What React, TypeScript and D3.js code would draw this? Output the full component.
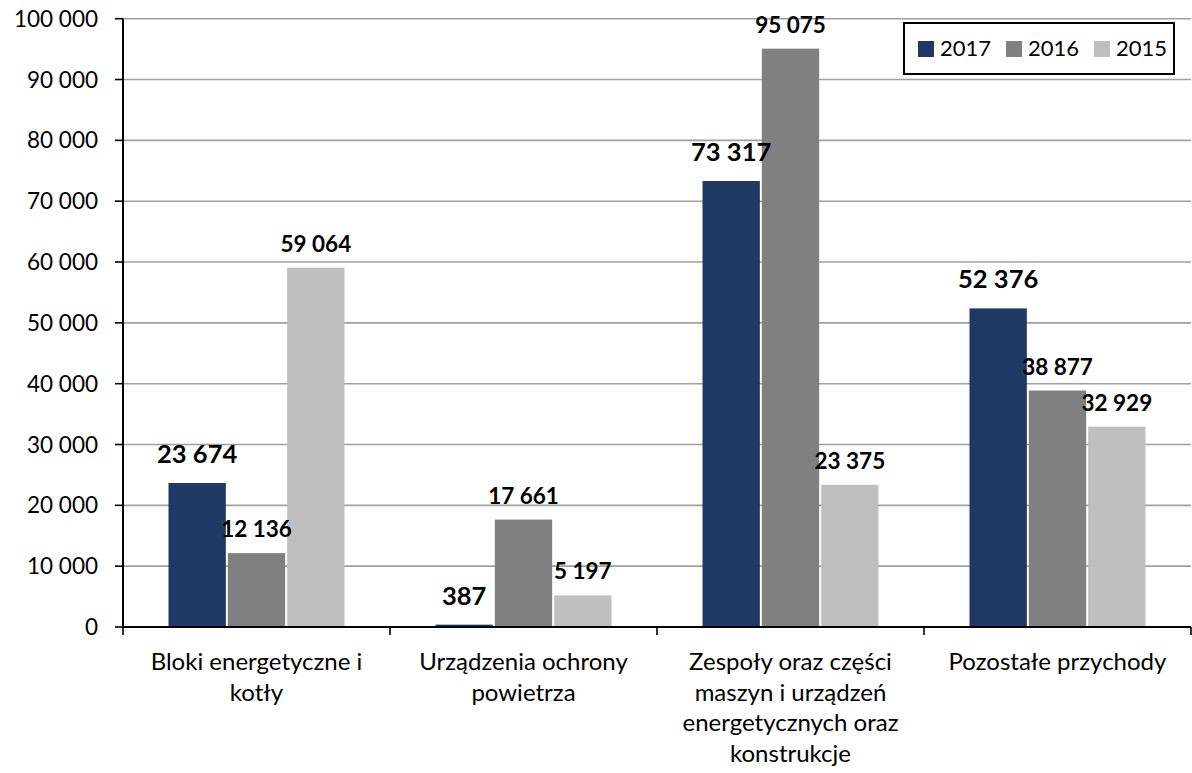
import React from "react";
import * as d3 from "d3";

const categories: string[][] = [
  ["Bloki energetyczne i", "kotły"],
  ["Urządzenia ochrony", "powietrza"],
  ["Zespoły oraz części", "maszyn i urządzeń", "energetycznych oraz", "konstrukcje"],
  ["Pozostałe przychody"],
];
const seriesNames = ["2017", "2016", "2015"];
const values2017 = [23674, 387, 73317, 52376];
const values2016 = [12136, 17661, 95075, 38877];
const values2015 = [59064, 5197, 23375, 32929];
const yTicks = [0, 10000, 20000, 30000, 40000, 50000, 60000, 70000, 80000, 90000, 100000];
const colors = ["#203864", "#808080", "#BFBFBF"];

const W = 1192;
const H = 773;
const FONT = "Lato, 'Open Sans', sans-serif";

export default function App() {
  const seriesValues = [values2017, values2016, values2015];
  const left = 123;
  const right = 1191;
  const top = 18.7;
  const bottom = 627;

  const catIdx = categories.map((_, i) => i);
  const x = d3.scaleBand<number>().domain(catIdx).range([left, right]).paddingInner(0).paddingOuter(0);
  const xs = d3.scaleBand<number>().domain([0, 1, 2]).range([0, x.bandwidth()]).paddingInner(0).paddingOuter(0.75);
  const y = d3.scaleLinear().domain([0, 100000]).range([bottom, top]);
  const loc = d3.formatLocale({ decimal: ",", thousands: " ", grouping: [3], currency: ["", ""] });
  const fmt = loc.format(",d");
  const bw = xs.bandwidth();

  const boundaries = [...catIdx.map((i) => x(i)!), right];

  return (
    <svg width={W} height={H} style={{ position: "absolute", left: 0, top: 0, background: "#fff" }} fontFamily={FONT}>
      <rect x={0} y={0} width={W} height={H} fill="#fff" />
      {yTicks.map((t) => (
        <g key={t}>
          {t > 0 && <line x1={left} x2={right} y1={y(t)} y2={y(t)} stroke="#A0A0A0" strokeWidth={1.6} />}
          <line x1={115} x2={left} y1={y(t)} y2={y(t)} stroke="#000" strokeWidth={1.6} />
          <text x={98} y={y(t)} dy="0.36em" textAnchor="end" fontSize={22.5} fill="#000">
            {fmt(t)}
          </text>
        </g>
      ))}
      {seriesValues.map((vals, s) =>
        vals.map((v, i) => {
          const bx = x(i)! + xs(s)!;
          return (
            <rect key={`${s}-${i}`} x={bx + 1} y={y(v)} width={bw - 2} height={bottom - y(v)} fill={colors[s]} />
          );
        })
      )}
      {seriesValues.map((vals, s) =>
        vals.map((v, i) => {
          const cx = x(i)! + xs(s)! + bw / 2;
          return (
            <text
              key={`l-${s}-${i}`}
              x={cx}
              y={y(v) - (s === 0 ? 20 : 16)}
              textAnchor="middle"
              fontWeight="bold"
              fontSize={s === 0 ? 25.5 : 22.5}
              fill="#000"
            >
              {fmt(v)}
            </text>
          );
        })
      )}
      <line x1={left} x2={left} y1={top} y2={bottom + 1} stroke="#000" strokeWidth={2} />
      <line x1={left - 1} x2={right} y1={bottom} y2={bottom} stroke="#000" strokeWidth={2} />
      {boundaries.map((b, i) => (
        <line key={`b-${i}`} x1={b} x2={b} y1={bottom} y2={bottom + 8} stroke="#000" strokeWidth={1.6} />
      ))}
      {categories.map((lines, i) => (
        <text key={`c-${i}`} x={x(i)! + x.bandwidth() / 2} y={670} textAnchor="middle" fontSize={24} fill="#000">
          {lines.map((ln, j) => (
            <tspan key={j} x={x(i)! + x.bandwidth() / 2} dy={j === 0 ? 0 : 30.7}>
              {ln}
            </tspan>
          ))}
        </text>
      ))}
      <g>
        <rect x={904} y={23} width={270} height={51} fill="#fff" stroke="#000" strokeWidth={2} />
        {seriesNames.map((n, s) => {
          const lx = 918 + s * 88;
          return (
            <g key={n}>
              <rect x={lx} y={41} width={16} height={16} fill={colors[s]} />
              <text x={lx + 22} y={56} fontSize={22} fill="#000">
                {n}
              </text>
            </g>
          );
        })}
      </g>
    </svg>
  );
}
